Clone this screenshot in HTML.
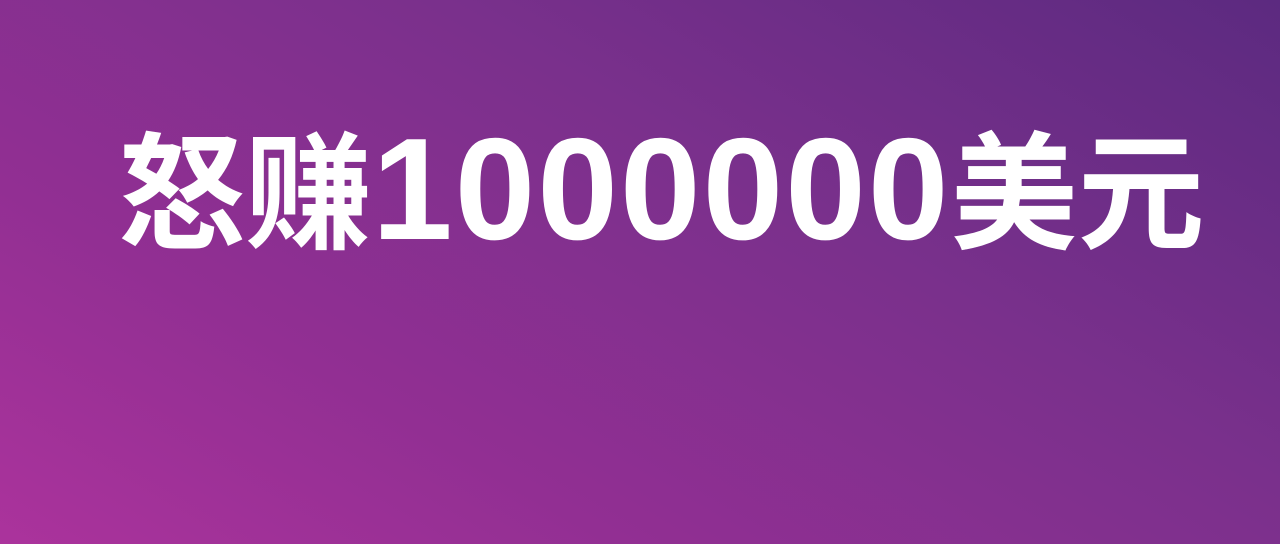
<!DOCTYPE html>
<html><head><meta charset="utf-8"><style>
html,body{margin:0;padding:0;}
body{width:1280px;height:544px;overflow:hidden;position:relative;
background:linear-gradient(210deg,#5c2a80 0%,#7a308c 38%,#922f93 72%,#ab339c 100%);}
.title{position:absolute;left:118px;top:117px;white-space:nowrap;color:#fff;font-weight:bold;line-height:1;}
.cjk{font-family:"Liberation Sans","Noto Sans CJK SC",sans-serif;font-size:127px;}
.num{font-family:"Liberation Sans","Noto Sans CJK SC",sans-serif;font-size:145px;letter-spacing:2px;}
</style></head><body>
<div class="title"><span class="cjk">怒赚</span><span class="num">1000000</span><span class="cjk">美元</span></div>
</body></html>
